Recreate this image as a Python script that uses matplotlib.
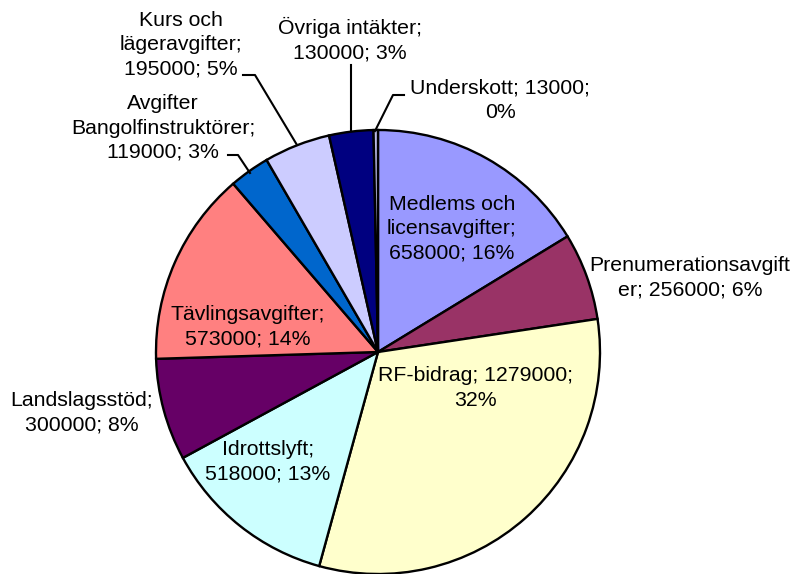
import matplotlib
matplotlib.use("Agg")
import matplotlib.pyplot as plt

labels = ["Medlems och licensavgifter", "Prenumerationsavgifter", "RF-bidrag",
          "Idrottslyft", "Landslagsstöd", "Tävlingsavgifter",
          "Avgifter Bangolfinstruktörer", "Kurs och lägeravgifter",
          "Övriga intäkter", "Underskott"]
values = [658000, 256000, 1279000, 518000, 300000, 573000, 119000, 195000, 130000, 13000]
percents = ["16%", "6%", "32%", "13%", "8%", "14%", "3%", "5%", "3%", "0%"]
colors = ["#9999FF", "#993366", "#FFFFCC", "#CCFFFF", "#660066", "#FF8080",
          "#0066CC", "#CCCCFF", "#000080", "#B8B8E8"]

label_texts = [
    "Medlems och\nlicensavgifter;\n{v}; {p}",
    "Prenumerationsavgift\ner; {v}; {p}",
    "RF-bidrag; {v};\n{p}",
    "Idrottslyft;\n{v}; {p}",
    "Landslagsstöd;\n{v}; {p}",
    "Tävlingsavgifter;\n{v}; {p}",
    "Avgifter\nBangolfinstruktörer;\n{v}; {p}",
    "Kurs och\nlägeravgifter;\n{v}; {p}",
    "Övriga intäkter;\n{v}; {p}",
    "Underskott; {v};\n{p}",
]
# label centre positions (pixels, from top-left)
label_pos = [(452, 229), (690, 278), (475, 388), (268, 462), (82, 413),
             (248, 327), (163, 128), (181, 45), (350, 40), (500, 100)]
# leader lines (pixel coords)
leaders = {
    7: [(243, 75), (255, 75), (297, 145)],
    6: [(228, 155), (238, 155), (250, 173)],
    8: [(351, 65), (351, 131)],
    9: [(404, 95), (393, 95), (375, 131)],
}

W, H = 796, 574
fig = plt.figure(figsize=(W / 100, H / 100), dpi=100)
ax = fig.add_axes([0, 0, 1, 1])

cx, cy, r = 378, 352, 222
ax.pie(values, colors=colors, startangle=90, counterclock=False,
       center=(cx, H - cy), radius=r, frame=True,
       wedgeprops=dict(edgecolor="black", linewidth=1.7))
ax.set_xlim(0, W)
ax.set_ylim(0, H)
ax.axis("off")

fam = ["Liberation Sans", "DejaVu Sans"]
for i, (t, (x, y)) in enumerate(zip(label_texts, label_pos)):
    txt = t.format(v=values[i], p=percents[i])
    ax.text(x, H - y, txt, ha="center", va="center", fontsize=15.3,
            family=fam, linespacing=1.35, color="black")

for pts in leaders.values():
    xs = [p[0] for p in pts]
    ys = [H - p[1] for p in pts]
    ax.plot(xs, ys, color="black", linewidth=1.5)

fig.savefig("out.png", dpi=100)
